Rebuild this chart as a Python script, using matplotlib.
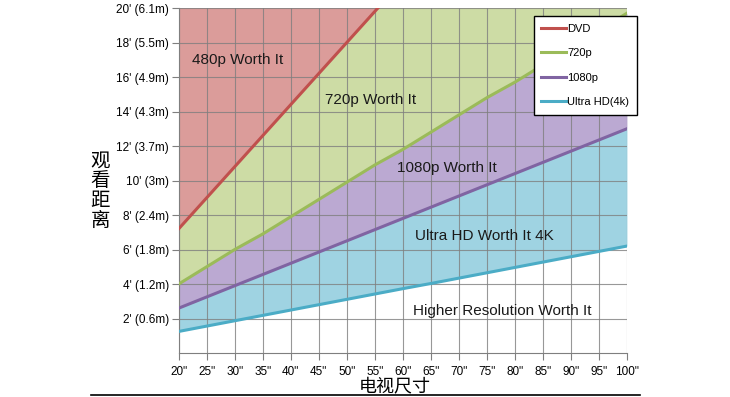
import matplotlib
matplotlib.use('Agg')
import matplotlib.pyplot as plt
from matplotlib.lines import Line2D
import numpy as np

# screen size (inches) and viewing distance (feet) per format
sizes = [20, 25, 30, 35, 40, 45, 50, 55, 60, 65, 70, 75, 80, 85, 90, 95, 100]
dvd = [7.2, 9.0, 10.8, 12.6, 14.4, 16.2, 18.0, 19.8, 21.6, 23.4, 25.2, 27.0, 28.8, 30.6, 32.4, 34.2, 36.0]
p720 = [4.0, 5.0, 6.0, 6.9, 7.9, 8.9, 9.9, 10.9, 11.8, 12.8, 13.8, 14.8, 15.7, 16.7, 17.7, 18.7, 19.7]
p1080 = [2.6, 3.25, 3.9, 4.55, 5.2, 5.85, 6.5, 7.15, 7.8, 8.45, 9.1, 9.75, 10.4, 11.05, 11.7, 12.35, 13.0]
uhd = [1.25, 1.56, 1.87, 2.18, 2.49, 2.8, 3.11, 3.42, 3.73, 4.03, 4.34, 4.65, 4.96, 5.27, 5.58, 5.89, 6.2]

series_names = ['DVD', '720p', '1080p', 'Ultra HD(4k)']
xtick_labels = ['%d"' % s for s in sizes]
ytick_vals = [2, 4, 6, 8, 10, 12, 14, 16, 18, 20]
ytick_labels = ["2' (0.6m)", "4' (1.2m)", "6' (1.8m)", "8' (2.4m)", "10' (3m)",
                "12' (3.7m)", "14' (4.3m)", "16' (4.9m)", "18' (5.5m)", "20' (6.1m)"]
region_labels = ['480p Worth It', '720p Worth It', '1080p Worth It',
                 'Ultra HD Worth It 4K', 'Higher Resolution Worth It']
region_pos = [(30.6, 17.0), (54.3, 14.65), (67.8, 10.7), (74.5, 6.8), (77.8, 2.45)]

plt.rcParams['font.family'] = ['Liberation Sans', 'Noto Sans CJK SC']

line_colors = ['#C0504D', '#9BBB59', '#8064A2', '#4BACC6']
fill_colors = ['#DB9C9A', '#CDDCA5', '#BBA9D2', '#9FD3E2']

fig = plt.figure(figsize=(7.3, 3.97), dpi=100)
ax = fig.add_axes([0.2448, 0.1108, 0.614, 0.869])

x = np.array(sizes)
ax.fill_between(x, dvd, 40, color=fill_colors[0], lw=0)
ax.fill_between(x, p720, dvd, color=fill_colors[1], lw=0)
ax.fill_between(x, p1080, p720, color=fill_colors[2], lw=0)
ax.fill_between(x, uhd, p1080, color=fill_colors[3], lw=0)

for ys, c, name in zip([dvd, p720, p1080, uhd], line_colors, series_names):
    ax.plot(x, ys, color=c, lw=2.2, label=name, zorder=4)

ax.set_xlim(20, 100)
ax.set_ylim(0, 20)
ax.set_xticks(sizes)
ax.set_xticklabels(xtick_labels, fontsize=8.5)
ax.set_yticks(ytick_vals)
ax.set_yticklabels(ytick_labels, fontsize=8.5)
ax.grid(True, color='#7f7f7f', lw=0.8, alpha=0.8, zorder=3)
ax.set_axisbelow(False)
ax.tick_params(direction='out', length=5, color='#7f7f7f')
ax.tick_params(axis='y', pad=2)
ax.tick_params(axis='x', pad=4)
for s in ['top', 'right']:
    ax.spines[s].set_visible(False)
for s in ['left', 'bottom']:
    ax.spines[s].set_color('#7f7f7f')

for label, (lx, ly) in zip(region_labels, region_pos):
    ax.text(lx, ly, label, fontsize=11, ha='center', va='center', color='#1a1a1a')

leg = ax.legend(loc='upper right', bbox_to_anchor=(1.023, 0.977), fontsize=8,
                frameon=True, fancybox=False, edgecolor='black', framealpha=1,
                handlelength=2.2, handletextpad=0.15, labelspacing=1.3,
                borderpad=0.7, borderaxespad=0)
leg.get_frame().set_linewidth(1.0)
leg.set_zorder(10)

fig.text(0.137, 0.52, '观\n看\n距\n离', fontsize=14, ha='center', va='center',
         family=['Noto Sans CJK SC'], linespacing=0.92)
fig.text(0.541, 0.024, '电视尺寸', fontsize=13, ha='center', va='center',
         family=['Noto Sans CJK SC'])
fig.add_artist(Line2D([0.125, 0.877], [0.004, 0.004], color='black', lw=1.2,
                      transform=fig.transFigure))

fig.savefig('out.png', dpi=100)
